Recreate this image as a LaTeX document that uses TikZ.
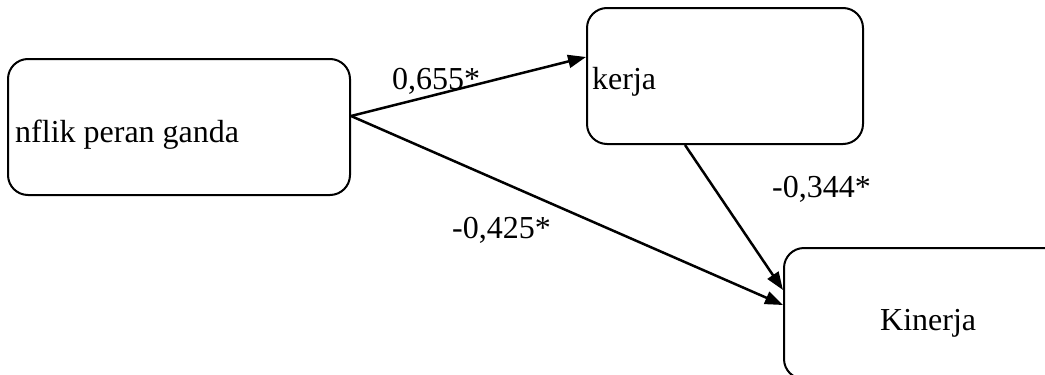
\documentclass[tikz,border=0pt]{standalone}
\usepackage{fontspec}
\setmainfont{Liberation Serif}
\usetikzlibrary{arrows.meta,calc}
\begin{document}
\begin{tikzpicture}[x=1pt,y=-1pt,
  boxnode/.style={draw,line width=2pt,rounded corners=20pt,minimum width=#1,inner sep=0pt},
  txt/.style={font=\fontsize{32}{38}\selectfont,inner sep=0pt,anchor=base west},
  arr/.style={line width=2.5pt,-{Triangle[length=18pt,width=13pt]}}]
\useasboundingbox (0,0) rectangle (1045,375);
\clip (0,0) rectangle (1045,375);
\node[boxnode=342pt,minimum height=136pt] (lb) at (179,127) {};
\node[boxnode=276pt,minimum height=136pt] (tb) at (725,76) {};
\node[boxnode=290pt,minimum height=131pt] (bb) at (929,313.5) {};
\node[txt] (lt) at (15,142) {nflik peran ganda};
\node[txt] (tt) at (592,89) {kerja};
\node[txt] (bt) at (880,330) {Kinerja};
\node[txt] (l1) at (392,89) {0,655*};
\node[txt] (l2) at (772,197) {-0,344*};
\node[txt] (l3) at (452,238) {-0,425*};
\draw[arr] ($(lb.east)+(0,-11)$) -- ($(tb.west)+(0,-19)$);
\draw[arr] ($(lb.east)+(0,-11)$) -- ($(bb.west)+(0,-8.5)$);
\draw[arr] ($(tb.south)+(-40,0)$) -- ($(bb.west)+(0,-23.5)$);
\end{tikzpicture}
\end{document}
